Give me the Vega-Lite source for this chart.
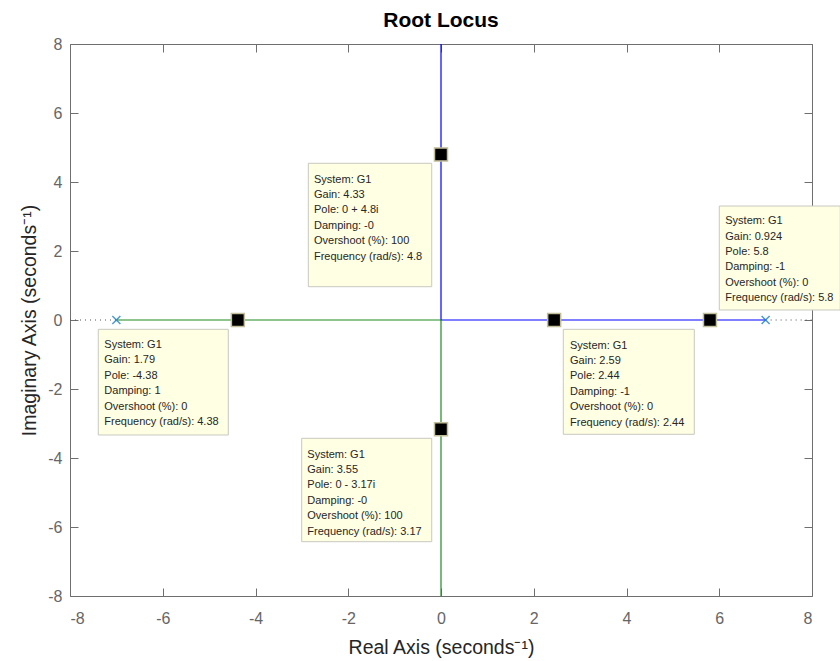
{
  "$schema": "https://vega.github.io/schema/vega-lite/v6.json",
  "width": 742,
  "height": 552,
  "autosize": {"type": "none"},
  "padding": {"left": 70, "top": 44, "right": 28, "bottom": 65},
  "background": "white",
  "config": {
    "view": {"stroke": null},
    "font": "Liberation Sans",
    "axis": {
      "grid": false,
      "domainColor": "#6f6f6f",
      "tickColor": "#6f6f6f",
      "labelColor": "#666666",
      "labelFont": "Liberation Sans",
      "labelFontSize": 16,
      "titleFont": "Liberation Sans",
      "titleFontSize": 19.5,
      "titleFontWeight": "normal",
      "titleColor": "#262626",
      "tickSize": -8,
      "domainWidth": 1,
      "tickWidth": 1
    }
  },
  "title": {
    "text": "Root Locus",
    "fontSize": 21,
    "fontWeight": "bold",
    "color": "#000000",
    "font": "Liberation Sans",
    "anchor": "middle",
    "offset": 5
  },
  "datasets": {
    "branches": [
      {"branch": "b1", "ord": 1, "re": 7, "im": 0},
      {"branch": "b1", "ord": 2, "re": 0, "im": 0},
      {"branch": "b1", "ord": 3, "re": 0, "im": 8},
      {"branch": "b2", "ord": 1, "re": -7, "im": 0},
      {"branch": "b2", "ord": 2, "re": 0, "im": 0},
      {"branch": "b2", "ord": 3, "re": 0, "im": -8}
    ],
    "dotted": [
      {"seg": "l", "re": -8, "im": 0},
      {"seg": "l", "re": -7, "im": 0},
      {"seg": "r", "re": 7, "im": 0},
      {"seg": "r", "re": 8, "im": 0}
    ],
    "poles": [
      {"re": -7, "im": 0},
      {"re": 7, "im": 0}
    ],
    "tips": [
      {"re": 0, "im": 4.8, "bx1": -2.861, "bx2": -0.2, "by1": 4.542, "by2": 0.965, "tx": -2.739, "ty": 3.98,
       "label": "System: G1\nGain: 4.33\nPole: 0 + 4.8i\nDamping: -0\nOvershoot (%): 100\nFrequency (rad/s): 4.8"},
      {"re": -4.38, "im": 0, "bx1": -7.39, "bx2": -4.587, "by1": -0.27, "by2": -3.333, "tx": -7.26, "ty": -0.812,
       "label": "System: G1\nGain: 1.79\nPole: -4.38\nDamping: 1\nOvershoot (%): 0\nFrequency (rad/s): 4.38"},
      {"re": 5.8, "im": 0, "bx1": 6.001, "bx2": 8.609, "by1": 3.304, "by2": 0.29, "tx": 6.13, "ty": 2.774,
       "label": "System: G1\nGain: 0.924\nPole: 5.8\nDamping: -1\nOvershoot (%): 0\nFrequency (rad/s): 5.8"},
      {"re": 2.44, "im": 0, "bx1": 2.637, "bx2": 5.462, "by1": -0.27, "by2": -3.313, "tx": 2.782, "ty": -0.829,
       "label": "System: G1\nGain: 2.59\nPole: 2.44\nDamping: -1\nOvershoot (%): 0\nFrequency (rad/s): 2.44"},
      {"re": 0, "im": -3.17, "bx1": -3.004, "bx2": -0.2, "by1": -3.429, "by2": -6.426, "tx": -2.883, "ty": -3.988,
       "label": "System: G1\nGain: 3.55\nPole: 0 - 3.17i\nDamping: -0\nOvershoot (%): 100\nFrequency (rad/s): 3.17"}
    ]
  },
  "resolve": {"axis": {"x": "independent", "y": "independent"}},
  "layer": [
    {
      "data": {"name": "dotted"},
      "mark": {"type": "line", "color": "#555555", "strokeWidth": 1, "strokeDash": [1, 4]},
      "encoding": {
        "detail": {"field": "seg"},
        "x": {"field": "re", "type": "quantitative",
              "scale": {"domain": [-8, 8], "nice": false, "zero": false},
              "axis": {"orient": "top", "labels": false, "title": null, "values": [-8, -6, -4, -2, 0, 2, 4, 6, 8]}},
        "y": {"field": "im", "type": "quantitative",
              "scale": {"domain": [-8, 8], "nice": false, "zero": false},
              "axis": {"orient": "right", "labels": false, "title": null, "values": [-8, -6, -4, -2, 0, 2, 4, 6, 8]}}
      }
    },
    {
      "data": {"name": "branches"},
      "mark": {"type": "line", "strokeWidth": 1.2},
      "encoding": {
        "x": {"field": "re", "type": "quantitative",
              "axis": {"orient": "bottom", "title": "Real Axis (seconds⁻¹)", "values": [-8, -6, -4, -2, 0, 2, 4, 6, 8],
                       "labelExpr": "datum.value < 0 ? '-' + abs(datum.value) : '' + datum.value",
                       "labelPadding": 22, "titlePadding": 12}},
        "y": {"field": "im", "type": "quantitative",
              "axis": {"orient": "left", "title": "Imaginary Axis (seconds⁻¹)", "values": [-8, -6, -4, -2, 0, 2, 4, 6, 8],
                       "labelExpr": "datum.value < 0 ? '-' + abs(datum.value) : '' + datum.value",
                       "labelPadding": 16, "titlePadding": 8}},
        "order": {"field": "ord"},
        "color": {"field": "branch", "type": "nominal",
                  "scale": {"domain": ["b1", "b2"], "range": ["#0000ff", "#1e8c1e"]},
                  "legend": null}
      }
    },
    {
      "data": {"name": "poles"},
      "mark": {"type": "point", "shape": "M-1,-1L1,1M1,-1L-1,1", "size": 64, "stroke": "#0072bd", "strokeWidth": 1.5, "filled": false},
      "encoding": {
        "x": {"field": "re", "type": "quantitative", "axis": null},
        "y": {"field": "im", "type": "quantitative", "axis": null}
      }
    },
    {
      "data": {"name": "tips"},
      "mark": {"type": "rect", "fill": "#ffffe3", "stroke": "#c8c8c0", "strokeWidth": 1},
      "encoding": {
        "x": {"field": "bx1", "type": "quantitative", "axis": null},
        "x2": {"field": "bx2"},
        "y": {"field": "by1", "type": "quantitative", "axis": null},
        "y2": {"field": "by2"}
      }
    },
    {
      "data": {"name": "tips"},
      "mark": {"type": "text", "align": "left", "baseline": "alphabetic", "lineBreak": "\n", "lineHeight": 15.4, "fontSize": 11, "font": "Liberation Sans", "color": "#262626"},
      "encoding": {
        "x": {"field": "tx", "type": "quantitative", "axis": null},
        "y": {"field": "ty", "type": "quantitative", "axis": null},
        "text": {"field": "label"}
      }
    },
    {
      "data": {"name": "tips"},
      "mark": {"type": "point", "shape": "square", "size": 169, "filled": true, "fill": "#000000", "stroke": "#c2c09a", "strokeWidth": 1.5, "opacity": 1},
      "encoding": {
        "x": {"field": "re", "type": "quantitative", "axis": null},
        "y": {"field": "im", "type": "quantitative", "axis": null}
      }
    }
  ]
}
